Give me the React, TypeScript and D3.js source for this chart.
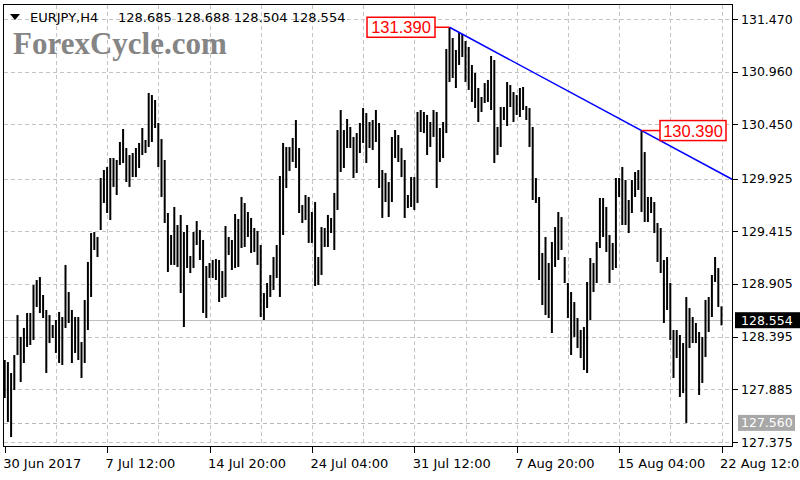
import React from "react";
import * as d3 from "d3";

// ---- data (H4 bars, EURJPY) ----
const highs = [
  128.169, 128.149, 128.043, 128.217, 128.604, 128.392, 128.479, 128.624, 128.624, 128.895,
  128.943, 128.972, 128.798, 128.653, 128.604, 128.508, 128.556, 128.634, 128.585, 129.089,
  128.827, 128.653, 128.585, 128.585, 128.343, 128.750, 129.118, 129.398, 129.408, 129.360,
  129.931, 130.008, 130.037, 130.124, 130.124, 130.105, 130.279, 130.405, 130.221, 130.153,
  130.173, 130.221, 130.270, 130.415, 130.299, 130.754, 130.734, 130.686, 130.463, 130.308,
  130.105, 129.592, 129.379, 129.650, 129.476, 129.573, 129.408, 129.476, 129.176, 129.408,
  129.514, 129.427, 129.331, 129.079, 129.108, 129.137, 129.147, 129.137, 129.030, 129.466,
  129.360, 129.331, 129.582, 129.534, 129.747, 129.689, 129.602, 129.544, 129.447, 129.418,
  129.282, 128.817, 128.914, 128.992, 129.166, 129.282, 129.950, 130.270, 130.231, 130.231,
  130.318, 130.492, 130.221, 129.669, 129.766, 129.747, 129.602, 129.698, 129.166, 129.456,
  129.447, 129.573, 129.544, 129.786, 130.395, 130.589, 130.395, 130.502, 130.425, 130.328,
  130.366, 130.463, 130.608, 130.560, 130.473, 130.492, 130.589, 130.463, 130.008, 129.979,
  129.892, 130.328, 130.395, 130.347, 130.221, 130.105, 129.766, 129.940, 129.940, 130.570,
  130.589, 130.570, 130.541, 130.473, 130.589, 130.570, 130.415, 130.473, 131.180, 131.390,
  131.286, 131.170, 131.344, 131.325, 131.257, 131.199, 131.025, 130.947, 130.802, 130.715,
  130.850, 130.880, 131.112, 131.073, 130.425, 130.618, 130.618, 130.860, 130.831, 130.763,
  130.734, 130.802, 130.812, 130.628, 130.608, 130.425, 129.931, 129.747, 129.205, 129.360,
  129.108, 129.311, 129.456, 129.602, 129.553, 129.166, 128.914, 128.827, 128.730, 128.575,
  128.459, 128.488, 128.924, 129.156, 129.108, 129.311, 129.737, 129.737, 129.650, 129.379,
  129.302, 129.931, 129.931, 130.037, 129.911, 129.718, 129.911, 129.989, 130.008, 130.390,
  130.182, 129.747, 129.747, 129.698, 129.495, 129.447, 129.137, 129.166, 128.914, 128.459,
  128.459, 128.411, 128.333, 128.779, 128.672, 128.585, 128.527, 128.440, 128.392, 128.750,
  128.779, 128.992, 129.166, 129.059, 128.688,
];

const lows = [
  127.801, 127.569, 127.423, 127.878, 128.217, 127.956, 128.140, 128.295, 128.314, 128.362,
  128.682, 128.624, 128.575, 128.043, 128.333, 128.382, 128.237, 128.140, 128.120, 128.479,
  128.527, 128.140, 128.237, 128.169, 127.995, 128.140, 128.459, 128.779, 129.234, 129.166,
  129.427, 129.689, 129.592, 129.524, 129.844, 129.766, 130.057, 130.076, 129.892, 129.844,
  129.940, 129.940, 130.028, 130.153, 130.173, 130.231, 130.279, 130.415, 130.037, 129.747,
  129.495, 129.021, 129.089, 129.089, 129.069, 128.817, 128.488, 129.059, 129.011, 129.059,
  129.282, 129.137, 128.624, 128.575, 128.963, 128.963, 128.943, 128.730, 128.769, 128.779,
  129.185, 129.040, 129.059, 129.069, 129.253, 129.263, 129.360, 129.205, 129.214, 129.089,
  128.585, 128.556, 128.672, 128.779, 128.847, 128.963, 128.779, 129.379, 129.834, 129.999,
  130.086, 130.028, 129.592, 129.495, 129.524, 129.302, 129.302, 128.885, 128.895, 128.992,
  129.263, 129.263, 129.398, 129.234, 129.621, 129.989, 130.028, 130.221, 130.221, 129.931,
  129.979, 130.173, 130.270, 130.076, 130.221, 130.202, 130.279, 129.834, 129.544, 129.698,
  129.553, 129.698, 130.124, 130.086, 129.940, 129.544, 129.640, 129.650, 129.621, 129.689,
  130.376, 130.366, 130.153, 130.231, 130.328, 129.834, 130.086, 130.124, 130.366, 130.860,
  130.899, 130.802, 131.025, 131.102, 130.860, 130.783, 130.667, 130.608, 130.473, 130.570,
  130.657, 130.667, 130.589, 130.076, 130.153, 130.231, 130.492, 130.434, 130.618, 130.473,
  130.541, 130.521, 130.589, 130.492, 130.231, 129.718, 129.689, 128.943, 128.701, 128.604,
  128.575, 128.430, 129.069, 129.137, 129.234, 128.914, 128.575, 128.217, 128.392, 128.285,
  128.188, 128.072, 128.043, 128.556, 128.827, 128.914, 129.253, 129.360, 129.214, 128.914,
  129.040, 129.059, 129.747, 129.476, 129.476, 129.398, 129.592, 129.747, 129.815, 129.602,
  129.505, 129.505, 129.592, 129.398, 129.118, 129.011, 128.527, 128.653, 128.362, 127.995,
  128.188, 127.811, 127.849, 127.560, 128.285, 128.333, 128.333, 127.830, 127.946, 128.198,
  128.440, 128.585, 128.924, 128.682, 128.504,
];

const timeLabels = [
  "30 Jun 2017", "7 Jul 12:00", "14 Jul 20:00", "24 Jul 04:00",
  "31 Jul 12:00", "7 Aug 20:00", "15 Aug 04:00", "22 Aug 12:00",
];
const barsPerTimeLabel = 32;
const barsPerGrid = 16;

const priceTicks = [131.470, 130.960, 130.450, 129.925, 129.415, 128.905, 128.395, 127.885, 127.375];

const symbolName = "EURJPY,H4";
const lastOHLC = [128.685, 128.688, 128.504, 128.554];
const currentPrice = 128.554;
const supportPrice = 127.560;
const trendFrom = { index: 139, price: 131.390 };
const trendTo = { index: 199, price: 130.390 };
const watermark = "ForexCycle.com";

// ---- layout ----
const W = 800;
const H = 480;
const plotL = 3.5;
const plotR = 732.5;
const plotT = 4.5;
const plotB = 446.5;
const axisFont = "'DejaVu Sans', Verdana, sans-serif";

export default function App() {
  const n = highs.length;
  const x = d3.scaleLinear().domain([0, n - 1]).range([4.7, 721.5]);
  const y = d3.scaleLinear().domain([127.375, 131.47]).range([442, 19]);
  const fmt = d3.format(".3f");

  const gridIdx = d3.range(barsPerGrid, n, barsPerGrid);
  const labelIdx = timeLabels.map((_, i) => i * barsPerTimeLabel);

  const slope = (trendTo.price - trendFrom.price) / (trendTo.index - trendFrom.index);
  const idxRight = x.invert(plotR);
  const priceRight = trendFrom.price + slope * (idxRight - trendFrom.index);

  const cpY = y(currentPrice);
  const supY = y(supportPrice);

  const lbl1X = x(trendFrom.index);
  const lbl1Y = y(trendFrom.price);
  const lbl2X = x(trendTo.index);
  const lbl2Y = y(trendTo.price);

  return (
    <svg
      width={W}
      height={H}
      viewBox={`0 0 ${W} ${H}`}
      style={{ position: "absolute", left: 0, top: 0, background: "#fff" }}
    >
      <rect x={0} y={0} width={W} height={H} fill="#fff" />
      {/* horizontal grid */}
      {priceTicks.map((p) => (
        <line
          key={"hg" + p}
          x1={plotL}
          x2={plotR}
          y1={Math.round(y(p)) + 0.5}
          y2={Math.round(y(p)) + 0.5}
          stroke="#c4c4c4"
          strokeDasharray="4,3"
          shapeRendering="crispEdges"
        />
      ))}
      {/* vertical grid */}
      {gridIdx.map((i) => (
        <line
          key={"vg" + i}
          x1={Math.round(x(i)) + 0.5}
          x2={Math.round(x(i)) + 0.5}
          y1={plotT}
          y2={plotB}
          stroke="#c4c4c4"
          strokeDasharray="4,3"
          shapeRendering="crispEdges"
        />
      ))}
      {/* support level */}
      <line
        x1={plotL}
        x2={plotR}
        y1={Math.round(supY) + 0.5}
        y2={Math.round(supY) + 0.5}
        stroke="#b8b8b8"
        strokeDasharray="4,3"
        shapeRendering="crispEdges"
      />
      {/* current price line */}
      <line
        x1={plotL}
        x2={plotR}
        y1={Math.round(cpY) + 0.5}
        y2={Math.round(cpY) + 0.5}
        stroke="#c0c0c0"
        shapeRendering="crispEdges"
      />
      {/* header */}
      <path d="M10,14 L20,14 L15,20 Z" fill="#000" />
      <text x={30} y={22} fontFamily={axisFont} fontSize={13} fill="#000">
        {symbolName}
      </text>
      <text x={118} y={22} fontFamily={axisFont} fontSize={13} fill="#000">
        {lastOHLC.map(fmt).join(" ")}
      </text>
      <text
        x={13}
        y={54}
        fontFamily="'Liberation Serif', 'Times New Roman', serif"
        fontWeight="bold"
        fontSize={31}
        fill="#858585"
      >
        {watermark}
      </text>
      {/* bars */}
      {highs.map((h, i) => (
        <line
          key={"b" + i}
          x1={x(i)}
          x2={x(i)}
          y1={y(h)}
          y2={y(lows[i])}
          stroke="#000"
          strokeWidth={2}
        />
      ))}
      {/* trend line */}
      <line
        x1={x(trendFrom.index)}
        y1={y(trendFrom.price)}
        x2={x(idxRight)}
        y2={y(priceRight)}
        stroke="#0000ff"
        strokeWidth={1.5}
      />
      {/* price labels */}
      <line x1={lbl1X - 14.5} x2={lbl1X} y1={lbl1Y} y2={lbl1Y} stroke="#ff0000" strokeWidth={1.5} />
      <rect x={lbl1X - 82.5} y={lbl1Y - 10} width={68} height={20} fill="#fff" stroke="#ff0000" strokeWidth={1.5} />
      <text
        x={lbl1X - 48.5}
        y={lbl1Y}
        dy="0.36em"
        textAnchor="middle"
        fontFamily="'Liberation Sans', Arial, sans-serif"
        fontSize={16.5}
        fill="#ff0000"
      >
        {fmt(trendFrom.price)}
      </text>
      <line x1={lbl2X} x2={lbl2X + 18.5} y1={lbl2Y} y2={lbl2Y} stroke="#ff0000" strokeWidth={1.5} />
      <rect x={lbl2X + 18.5} y={lbl2Y - 10} width={66} height={20} fill="#fff" stroke="#ff0000" strokeWidth={1.5} />
      <text
        x={lbl2X + 51.5}
        y={lbl2Y}
        dy="0.36em"
        textAnchor="middle"
        fontFamily="'Liberation Sans', Arial, sans-serif"
        fontSize={16.5}
        fill="#ff0000"
      >
        {fmt(trendTo.price)}
      </text>
      {/* frame */}
      <rect
        x={plotL}
        y={plotT}
        width={plotR - plotL}
        height={plotB - plotT}
        fill="none"
        stroke="#000"
        shapeRendering="crispEdges"
      />
      {/* y axis */}
      {priceTicks.map((p) => (
        <g key={"yt" + p}>
          <line
            x1={plotR}
            x2={plotR + 5}
            y1={Math.round(y(p)) + 0.5}
            y2={Math.round(y(p)) + 0.5}
            stroke="#000"
            shapeRendering="crispEdges"
          />
          <text x={741} y={y(p)} dy="0.36em" fontFamily={axisFont} fontSize={12.5} fill="#000">
            {fmt(p)}
          </text>
        </g>
      ))}
      {/* support label */}
      <rect x={738} y={supY - 8} width={57} height={16} fill="#a8a8a8" />
      <text x={741} y={supY} dy="0.36em" fontFamily={axisFont} fontSize={12.5} fill="#fff">
        {fmt(supportPrice)}
      </text>
      {/* current price label */}
      <rect x={735} y={cpY - 8} width={65} height={16} fill="#000" />
      <text x={741} y={cpY} dy="0.36em" fontFamily={axisFont} fontSize={12.5} fill="#fff">
        {fmt(currentPrice)}
      </text>
      {/* x axis */}
      {labelIdx.map((i, k) => (
        <g key={"xt" + i}>
          <line
            x1={Math.round(x(i)) + 0.5}
            x2={Math.round(x(i)) + 0.5}
            y1={plotB}
            y2={plotB + 6}
            stroke="#000"
            shapeRendering="crispEdges"
          />
          <text x={x(i) - 1.5} y={468} fontFamily={axisFont} fontSize={13} fill="#000">
            {timeLabels[k]}
          </text>
        </g>
      ))}
    </svg>
  );
}
